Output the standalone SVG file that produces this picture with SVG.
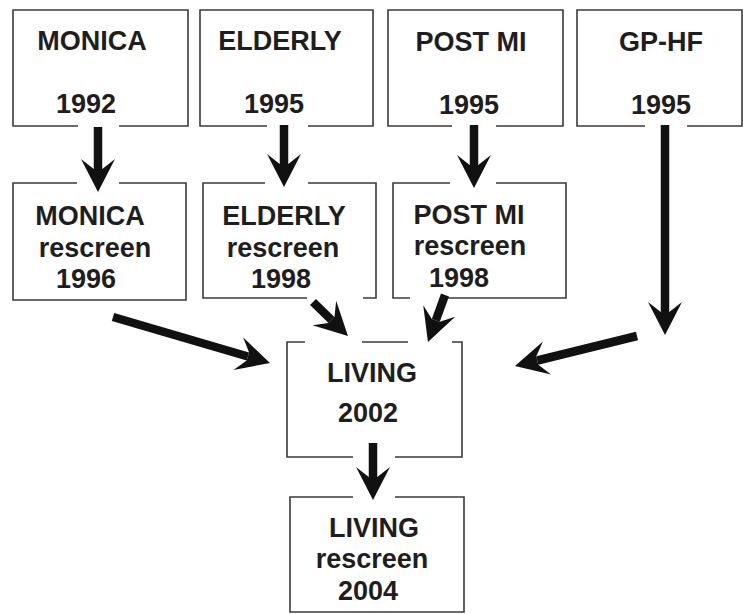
<svg xmlns="http://www.w3.org/2000/svg" width="743" height="614" viewBox="0 0 743 614">
  <style>
    .box { fill: none; stroke: #3a3a3a; stroke-width: 1.6; }
    .t { font-family: "Liberation Sans", Arial, sans-serif; font-weight: bold; font-size: 27px; fill: #1e1e1e; text-anchor: middle; }
    .arr { stroke: #111; stroke-width: 8.5; fill: none; stroke-linecap: butt; marker-end: url(#ah); }
  </style>
  <defs>
    <marker id="ah" markerUnits="userSpaceOnUse" orient="auto" overflow="visible" refX="0" refY="0" markerWidth="1" markerHeight="1">
      <path d="M23,0 L-10,-17 L0,-4.25 L0,4.25 L-10,17 Z" fill="#111"/>
    </marker>
  </defs>
  <rect width="743" height="614" fill="#ffffff"/>

  <g id="monica1992">
    <path class="box" d="M78,126 H13 V10 H188 V126 H119"/>
    <text class="t" x="92" y="50">MONICA</text>
    <text class="t" x="86" y="113">1992</text>
  </g>
  <g id="elderly1995">
    <path class="box" d="M267,126 H200 V10 H373 V126 H308"/>
    <text class="t" x="280" y="50">ELDERLY</text>
    <text class="t" x="274" y="113">1995</text>
  </g>
  <g id="postmi1995">
    <path class="box" d="M452,126 H388 V10 H563 V126 H496"/>
    <text class="t" x="471" y="51">POST MI</text>
    <text class="t" x="469" y="114">1995</text>
  </g>
  <g id="gphf1995">
    <path class="box" d="M645,126 H577 V10 H742 V126 H687"/>
    <text class="t" x="661" y="51">GP-HF</text>
    <text class="t" x="661" y="114">1995</text>
  </g>

  <g id="monicaRescreen">
    <path class="box" d="M77,183 H13 V300 H186 V183 H119"/>
    <text class="t" x="90" y="225">MONICA</text>
    <text class="t" x="95" y="257">rescreen</text>
    <text class="t" x="86" y="288">1996</text>
  </g>
  <g id="elderlyRescreen">
    <path class="box" d="M265,183 H203 V298 H307 M363,298 H376 V183 H308"/>
    <text class="t" x="284" y="225">ELDERLY</text>
    <text class="t" x="283" y="257">rescreen</text>
    <text class="t" x="281" y="288">1998</text>
  </g>
  <g id="postmiRescreen">
    <path class="box" d="M450,183 H393 V298 H410 M448,298 H566 V183 H496"/>
    <text class="t" x="469" y="224">POST MI</text>
    <text class="t" x="470" y="255">rescreen</text>
    <text class="t" x="459" y="287">1998</text>
  </g>

  <g id="living2002">
    <path class="box" d="M305,342 H287 V457 H353 M395,457 H462 V342 H452 M362,342 H408"/>
    <text class="t" x="372" y="382">LIVING</text>
    <text class="t" x="368" y="422">2002</text>
  </g>
  <g id="livingRescreen">
    <path class="box" d="M353,497 H290 V612 H464 V497 H395"/>
    <text class="t" x="374" y="537">LIVING</text>
    <text class="t" x="372" y="568">rescreen</text>
    <text class="t" x="368" y="600">2004</text>
  </g>

  <g id="connectors">
    <line class="arr" x1="98" y1="127" x2="98" y2="169"/>
    <line class="arr" x1="284" y1="125" x2="284" y2="164"/>
    <line class="arr" x1="474" y1="125" x2="474" y2="165"/>
    <line class="arr" x1="665" y1="125" x2="665" y2="312"/>
    <line class="arr" x1="637" y1="336" x2="537.3" y2="360.5"/>
    <line class="arr" x1="113" y1="317" x2="247.9" y2="356.5"/>
    <line class="arr" x1="313" y1="302" x2="331.5" y2="320"/>
    <line class="arr" x1="445" y1="295" x2="435.8" y2="320.4"/>
    <line class="arr" x1="373" y1="443" x2="373" y2="477"/>
  </g>
</svg>
